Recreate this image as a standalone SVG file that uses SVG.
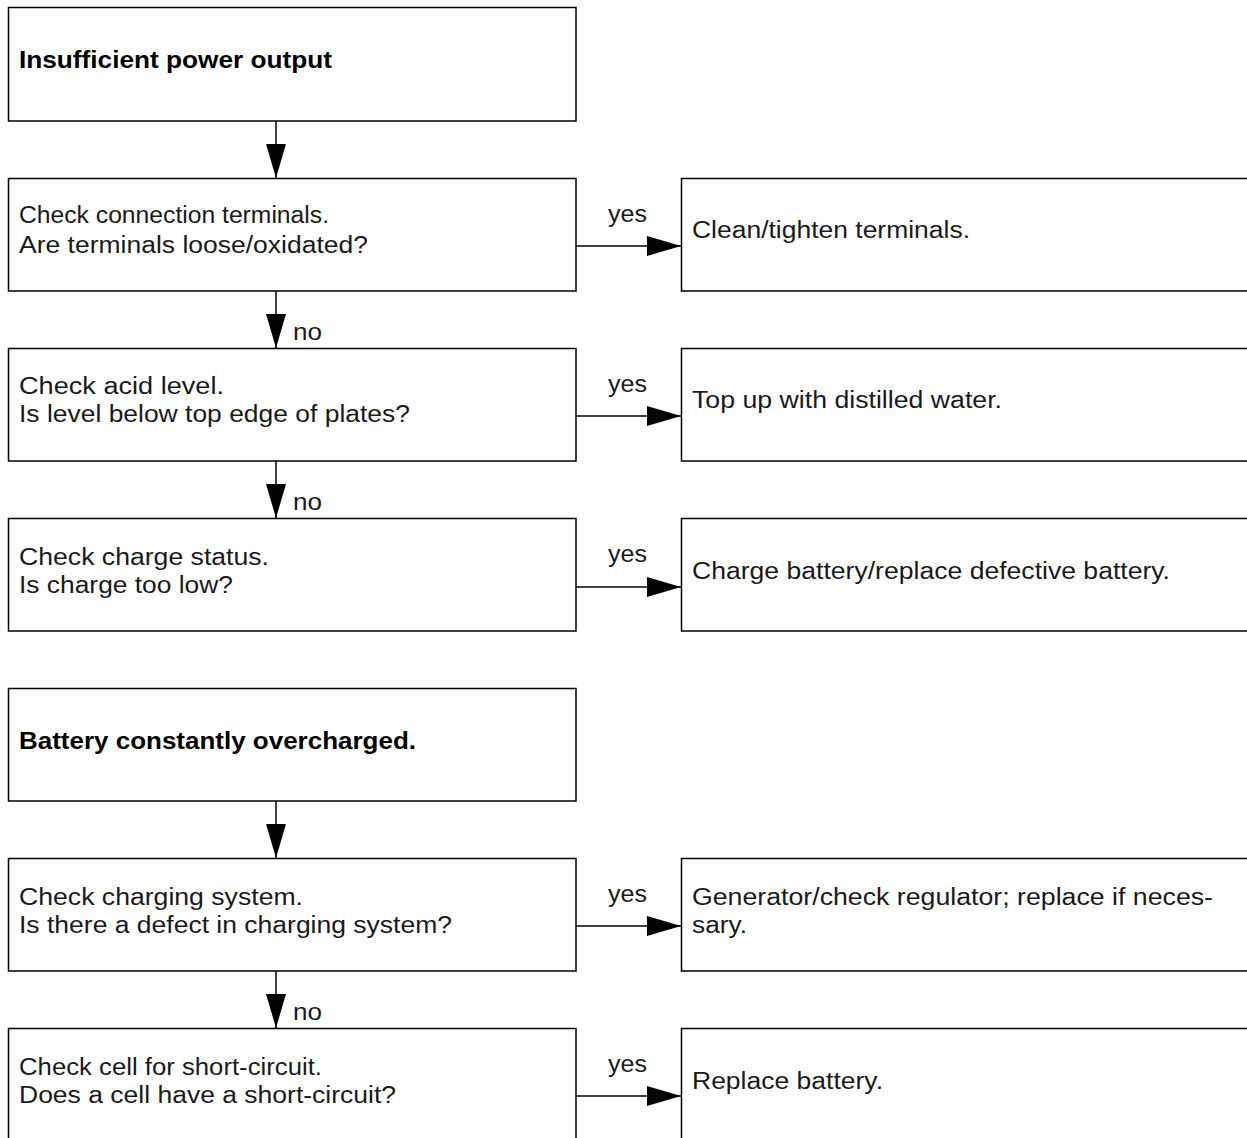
<svg xmlns="http://www.w3.org/2000/svg" width="1247" height="1138" viewBox="0 0 1247 1138">
<style>
.box{fill:#fff;stroke:#000;stroke-width:1.5}
.t{font-family:"Liberation Sans",Arial,sans-serif;font-size:23px;fill:#1a1a1a}
.b{font-weight:bold;fill:#000}
.c{stroke:#000;stroke-width:1.5;fill:none}
</style>
<defs>
<marker id="ah" markerUnits="userSpaceOnUse" markerWidth="34" markerHeight="20" refX="34" refY="10" orient="auto">
<path d="M0,0 L34,10 L0,20 Z" fill="#000"/>
</marker>
</defs>
<rect width="1247" height="1138" fill="#fff"/>
<g id="connectors">
<line class="c" x1="276" y1="121" x2="276" y2="178" marker-end="url(#ah)"/>
<line class="c" x1="276" y1="291" x2="276" y2="348" marker-end="url(#ah)"/>
<line class="c" x1="276" y1="461" x2="276" y2="518" marker-end="url(#ah)"/>
<line class="c" x1="276" y1="801" x2="276" y2="858" marker-end="url(#ah)"/>
<line class="c" x1="276" y1="971" x2="276" y2="1028" marker-end="url(#ah)"/>
<line class="c" x1="576" y1="246" x2="681" y2="246" marker-end="url(#ah)"/>
<line class="c" x1="576" y1="416" x2="681" y2="416" marker-end="url(#ah)"/>
<line class="c" x1="576" y1="587" x2="681" y2="587" marker-end="url(#ah)"/>
<line class="c" x1="576" y1="926" x2="681" y2="926" marker-end="url(#ah)"/>
<line class="c" x1="576" y1="1096" x2="681" y2="1096" marker-end="url(#ah)"/>
<text class="t" x="293" y="340" textLength="29" lengthAdjust="spacingAndGlyphs">no</text>
<text class="t" x="293" y="510" textLength="29" lengthAdjust="spacingAndGlyphs">no</text>
<text class="t" x="293" y="1020" textLength="29" lengthAdjust="spacingAndGlyphs">no</text>
<text class="t" x="608" y="222" textLength="39" lengthAdjust="spacingAndGlyphs">yes</text>
<text class="t" x="608" y="392" textLength="39" lengthAdjust="spacingAndGlyphs">yes</text>
<text class="t" x="608" y="562" textLength="39" lengthAdjust="spacingAndGlyphs">yes</text>
<text class="t" x="608" y="902" textLength="39" lengthAdjust="spacingAndGlyphs">yes</text>
<text class="t" x="608" y="1072" textLength="39" lengthAdjust="spacingAndGlyphs">yes</text>
</g>
<g id="n1"><rect class="box" x="8.5" y="7.5" width="567.5" height="113.5"/><text class="t b" x="19" y="68" textLength="313" lengthAdjust="spacingAndGlyphs">Insufficient power output</text></g>
<g id="n2"><rect class="box" x="8.5" y="178.5" width="567.5" height="112.5"/><text class="t" x="19" y="223" textLength="310" lengthAdjust="spacingAndGlyphs">Check connection terminals.</text><text class="t" x="19" y="253" textLength="349" lengthAdjust="spacingAndGlyphs">Are terminals loose/oxidated?</text></g>
<g id="n3"><rect class="box" x="681.5" y="178.5" width="600" height="112.5"/><text class="t" x="692" y="238" textLength="278" lengthAdjust="spacingAndGlyphs">Clean/tighten terminals.</text></g>
<g id="n4"><rect class="box" x="8.5" y="348.5" width="567.5" height="112.5"/><text class="t" x="19" y="394" textLength="205" lengthAdjust="spacingAndGlyphs">Check acid level.</text><text class="t" x="19" y="422" textLength="391" lengthAdjust="spacingAndGlyphs">Is level below top edge of plates?</text></g>
<g id="n5"><rect class="box" x="681.5" y="348.5" width="600" height="112.5"/><text class="t" x="692" y="408" textLength="310" lengthAdjust="spacingAndGlyphs">Top up with distilled water.</text></g>
<g id="n6"><rect class="box" x="8.5" y="518.5" width="567.5" height="112.5"/><text class="t" x="19" y="565" textLength="250" lengthAdjust="spacingAndGlyphs">Check charge status.</text><text class="t" x="19" y="593" textLength="214" lengthAdjust="spacingAndGlyphs">Is charge too low?</text></g>
<g id="n7"><rect class="box" x="681.5" y="518.5" width="600" height="112.5"/><text class="t" x="692" y="579" textLength="478" lengthAdjust="spacingAndGlyphs">Charge battery/replace defective battery.</text></g>
<g id="n8"><rect class="box" x="8.5" y="688.5" width="567.5" height="112.5"/><text class="t b" x="19" y="749" textLength="397" lengthAdjust="spacingAndGlyphs">Battery constantly overcharged.</text></g>
<g id="n9"><rect class="box" x="8.5" y="858.5" width="567.5" height="112.5"/><text class="t" x="19" y="905" textLength="284" lengthAdjust="spacingAndGlyphs">Check charging system.</text><text class="t" x="19" y="933" textLength="433" lengthAdjust="spacingAndGlyphs">Is there a defect in charging system?</text></g>
<g id="n10"><rect class="box" x="681.5" y="858.5" width="600" height="112.5"/><text class="t" x="692" y="905" textLength="521" lengthAdjust="spacingAndGlyphs">Generator/check regulator; replace if neces-</text><text class="t" x="692" y="933" textLength="55" lengthAdjust="spacingAndGlyphs">sary.</text></g>
<g id="n11"><rect class="box" x="8.5" y="1028.5" width="567.5" height="140"/><text class="t" x="19" y="1075" textLength="303" lengthAdjust="spacingAndGlyphs">Check cell for short-circuit.</text><text class="t" x="19" y="1103" textLength="377" lengthAdjust="spacingAndGlyphs">Does a cell have a short-circuit?</text></g>
<g id="n12"><rect class="box" x="681.5" y="1028.5" width="600" height="140"/><text class="t" x="692" y="1089" textLength="191" lengthAdjust="spacingAndGlyphs">Replace battery.</text></g>
</svg>
